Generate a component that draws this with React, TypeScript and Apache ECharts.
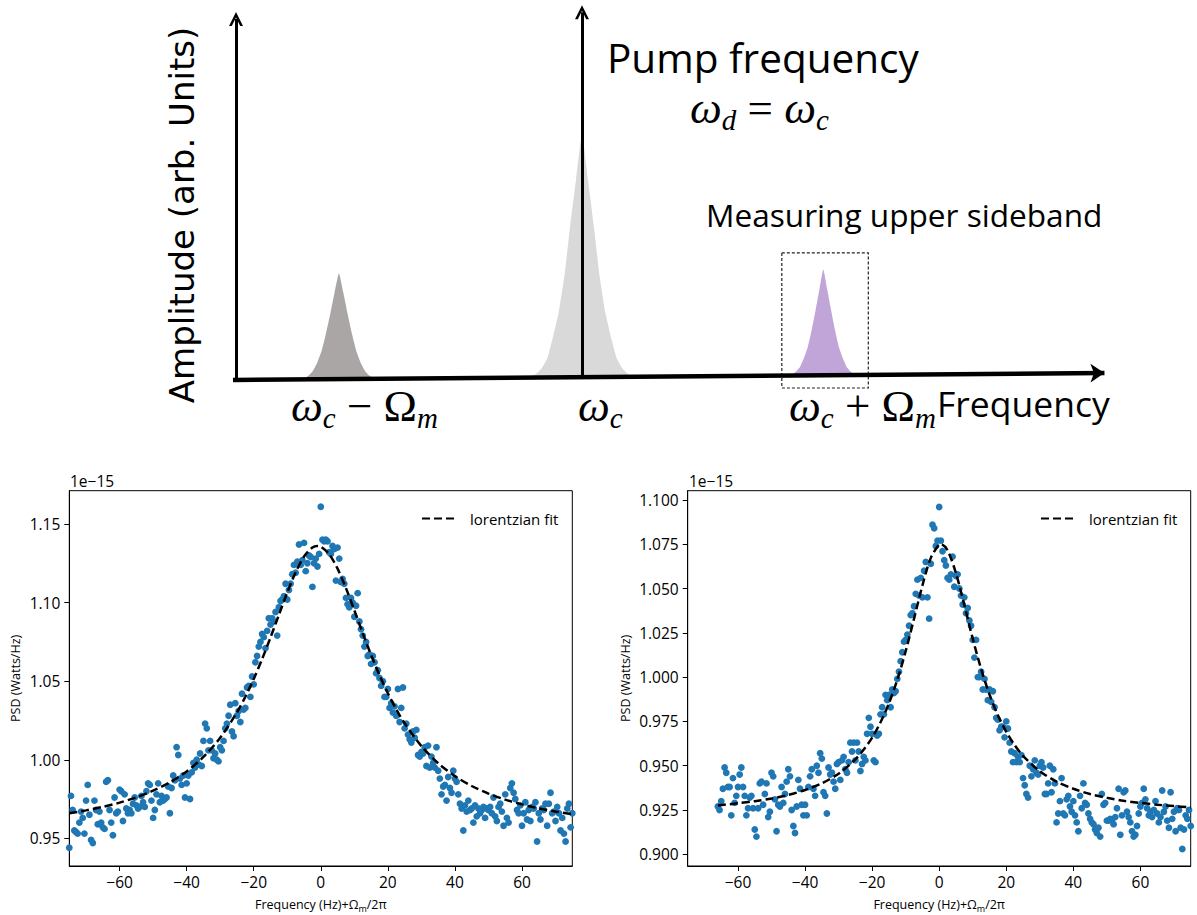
import React, { useEffect, useRef } from "react";
import * as echarts from "echarts";

// ---------- bottom charts: measured PSD (units of 1e-15 W/Hz) ----------
const FREQ_STEP = 0.5;
const LEFT_FREQ_START = -75;
const RIGHT_FREQ_START = -66;

const leftPsd = [
  0.944, 0.977, 0.968, 0.955, 0.954, 0.953, 0.960, 0.967, 0.963, 0.953,
  0.974, 0.984, 0.965, 0.949, 0.947, 0.974, 0.968, 0.959, 0.967, 0.960,
  0.957, 0.956, 0.986, 0.987, 0.968, 0.960, 0.952, 0.976, 0.966, 0.967,
  0.981, 0.980, 0.961, 0.978, 0.969, 0.966, 0.968, 0.966, 0.972, 0.976,
  0.971, 0.969, 0.970, 0.977, 0.973, 0.970, 0.980, 0.985, 0.984, 0.974,
  0.963, 0.968, 0.978, 0.985, 0.973, 0.977, 0.974, 0.975, 0.976, 0.983,
  0.966, 0.982, 0.990, 0.987, 1.008, 1.003, 0.988, 0.984, 0.990, 0.976,
  0.985, 0.990, 0.975, 0.992, 0.998, 0.995, 1.000, 0.997, 1.004, 0.996,
  1.012, 1.023, 1.020, 1.006, 1.012, 1.006, 1.001, 1.004, 1.000, 0.999,
  1.008, 1.006, 1.012, 1.020, 1.023, 1.028, 1.035, 1.018, 1.015, 1.036,
  1.028, 1.031, 1.024, 1.042, 1.032, 1.033, 1.046, 1.047, 1.040, 1.053,
  1.048, 1.062, 1.066, 1.072, 1.075, 1.080, 1.078, 1.071, 1.082, 1.090,
  1.086, 1.090, 1.088, 1.094, 1.079, 1.097, 1.101, 1.102, 1.104, 1.112,
  1.102, 1.108, 1.112, 1.118, 1.124, 1.119, 1.126, 1.137, 1.124, 1.127,
  1.138, 1.120, 1.125, 1.130, 1.129, 1.110, 1.125, 1.128, 1.123, 1.131,
  1.161, 1.140, 1.139, 1.140, 1.139, 1.132, 1.131, 1.136, 1.134, 1.114,
  1.135, 1.128, 1.113, 1.115, 1.112, 1.103, 1.099, 1.097, 1.103, 1.100,
  1.091, 1.098, 1.106, 1.088, 1.083, 1.079, 1.072, 1.075, 1.066, 1.067,
  1.061, 1.066, 1.062, 1.055, 1.057, 1.052, 1.047, 1.050, 1.040, 1.040,
  1.045, 1.033, 1.036, 1.030, 1.034, 1.028, 1.045, 1.024, 1.033, 1.046,
  1.020, 1.023, 1.016, 1.013, 1.011, 1.018, 1.014, 1.019, 1.003, 1.002,
  1.005, 1.004, 1.008, 0.996, 1.009, 0.995, 1.002, 0.998, 0.995, 1.008,
  0.993, 0.988, 0.978, 0.983, 0.984, 0.974, 0.989, 0.982, 0.979, 0.993,
  0.988, 0.986, 0.978, 0.972, 0.969, 0.955, 0.971, 0.967, 0.974, 0.968,
  0.969, 0.960, 0.971, 0.964, 0.969, 0.966, 0.968, 0.970, 0.963, 0.969,
  0.968, 0.970, 0.966, 0.976, 0.964, 0.961, 0.970, 0.972, 0.967, 0.958,
  0.978, 0.963, 0.960, 0.982, 0.985, 0.979, 0.975, 0.968, 0.966, 0.971,
  0.958, 0.966, 0.973, 0.962, 0.968, 0.961, 0.970, 0.969, 0.973, 0.948,
  0.966, 0.962, 0.969, 0.968, 0.972, 0.958, 0.972, 0.979, 0.966, 0.967,
  0.961, 0.970, 0.966, 0.955, 0.963, 0.953, 0.948, 0.969, 0.972, 0.957,
  0.966,
];

const rightPsd = [
  0.927, 0.925, 0.930, 0.937, 0.949, 0.946, 0.938, 0.938, 0.922, 0.943,
  0.929, 0.933, 0.938, 0.945, 0.949, 0.938, 0.933, 0.922, 0.926, 0.932,
  0.933, 0.926, 0.914, 0.910, 0.926, 0.940, 0.941, 0.928, 0.934, 0.940,
  0.921, 0.924, 0.946, 0.944, 0.931, 0.913, 0.928, 0.927, 0.938, 0.929,
  0.934, 0.941, 0.948, 0.944, 0.925, 0.916, 0.912, 0.927, 0.942, 0.937,
  0.928, 0.922, 0.928, 0.922, 0.938, 0.944, 0.948, 0.937, 0.933, 0.950,
  0.946, 0.957, 0.954, 0.935, 0.933, 0.923, 0.949, 0.945, 0.946, 0.941,
  0.937, 0.951, 0.952, 0.942, 0.953, 0.955, 0.948, 0.946, 0.952, 0.963,
  0.958, 0.963, 0.953, 0.963, 0.958, 0.947, 0.951, 0.955, 0.953, 0.968,
  0.977, 0.972, 0.968, 0.953, 0.952, 0.967, 0.968, 0.979, 0.983, 0.979,
  0.990, 0.987, 0.990, 0.983, 0.993, 0.991, 0.992, 0.999, 1.003, 1.009,
  1.014, 1.020, 1.021, 1.024, 1.029, 1.035, 1.036, 1.040, 1.047, 1.055,
  1.046, 1.056, 1.045, 1.060, 1.065, 1.045, 1.033, 1.064, 1.086, 1.084,
  1.074, 1.077, 1.096, 1.077, 1.071, 1.066, 1.063, 1.056, 1.055, 1.058,
  1.068, 1.051, 1.057, 1.058, 1.050, 1.046, 1.041, 1.045, 1.036, 1.039,
  1.032, 1.029, 1.021, 1.011, 1.021, 1.000, 1.000, 1.003, 0.993, 0.999,
  0.993, 0.987, 0.993, 0.986, 0.992, 0.983, 0.977, 0.976, 0.970, 0.972,
  0.972, 0.966, 0.975, 0.971, 0.963, 0.958, 0.952, 0.957, 0.952, 0.955,
  0.952, 0.956, 0.943, 0.939, 0.934, 0.932, 0.950, 0.944, 0.948, 0.953,
  0.946, 0.945, 0.950, 0.952, 0.949, 0.934, 0.934, 0.940, 0.950, 0.935,
  0.948, 0.940, 0.918, 0.923, 0.930, 0.943, 0.923, 0.922, 0.931, 0.933,
  0.927, 0.924, 0.930, 0.922, 0.918, 0.913, 0.933, 0.926, 0.940, 0.929,
  0.928, 0.923, 0.920, 0.918, 0.917, 0.914, 0.912, 0.915, 0.910, 0.934,
  0.928, 0.929, 0.919, 0.919, 0.920, 0.919, 0.917, 0.921, 0.926, 0.937,
  0.911, 0.922, 0.935, 0.936, 0.924, 0.921, 0.918, 0.913, 0.910, 0.911,
  0.916, 0.923, 0.927, 0.929, 0.937, 0.931, 0.926, 0.922, 0.924, 0.921,
  0.925, 0.930, 0.923, 0.918, 0.921, 0.936, 0.924, 0.927, 0.919, 0.915,
  0.935, 0.920, 0.924, 0.913, 0.926, 0.925, 0.915, 0.903, 0.914, 0.922,
  0.920, 0.925, 0.916,
];

// lorentzian fit curves
const leftFitFreq = [-75, -70, -65, -60, -55, -50, -45, -40, -35, -30, -25, -22.5, -20, -17.5, -15, -12.5, -10, -7.5, -5, -2.5, -1, 0, 2.5, 5, 7.5, 10, 12.5, 15, 17.5, 20, 22.5, 25, 30, 35, 40, 45, 50, 55, 60, 65, 70, 75];
const leftFitPsd = [0.9660, 0.9678, 0.9700, 0.9727, 0.9761, 0.9803, 0.9856, 0.9926, 1.0018, 1.0140, 1.0302, 1.0401, 1.0514, 1.0641, 1.0778, 1.0922, 1.1064, 1.1193, 1.1293, 1.1350, 1.1360, 1.1356, 1.1308, 1.1216, 1.1092, 1.0951, 1.0806, 1.0667, 1.0539, 1.0423, 1.0321, 1.0232, 1.0087, 0.9978, 0.9896, 0.9833, 0.9785, 0.9746, 0.9716, 0.9691, 0.9671, 0.9654];

const rightFitFreq = [-66, -60, -55, -50, -45, -40, -35, -30, -25, -22.5, -20, -17.5, -15, -12.5, -10, -7.5, -5, -2.5, 0, 0.5, 2.5, 5, 7.5, 10, 12.5, 15, 17.5, 20, 22.5, 25, 30, 35, 40, 45, 50, 55, 60, 65, 70, 75];
const rightFitPsd = [0.9276, 0.9288, 0.9300, 0.9315, 0.9335, 0.9363, 0.9401, 0.9455, 0.9536, 0.9591, 0.9659, 0.9745, 0.9852, 0.9985, 1.0146, 1.0330, 1.0518, 1.0673, 1.0748, 1.0750, 1.0715, 1.0586, 1.0406, 1.0217, 1.0046, 0.9902, 0.9785, 0.9691, 0.9616, 0.9556, 0.9469, 0.9410, 0.9370, 0.9340, 0.9319, 0.9302, 0.9290, 0.9280, 0.9272, 0.9265];

const xTicks = [-60, -40, -20, 0, 20, 40, 60];
const leftYTicks = [0.95, 1.0, 1.05, 1.1, 1.15];
const rightYTicks = [0.9, 0.925, 0.95, 0.975, 1.0, 1.025, 1.05, 1.075, 1.1];

// ---------- top schematic (arbitrary units) ----------
const lowerSidebandFreq = [6.9, 7.9, 8.4, 8.9, 9.4, 9.9, 10.4, 10.9, 11.4, 11.9, 12.4, 12.9, 13.4, 13.9, 14.4, 14.9, 15.4, 15.9, 16.9];
const lowerSidebandAmp = [0.002, 0.005, 0.012, 0.025, 0.047, 0.078, 0.124, 0.177, 0.234, 0.285, 0.234, 0.177, 0.124, 0.078, 0.047, 0.025, 0.012, 0.005, 0.002];
const pumpFreq = [33.3, 34.6, 35.3, 36.0, 36.6, 37.3, 38.0, 38.6, 39.3, 40.0, 40.7, 41.4, 42.0, 42.7, 43.4, 44.0, 44.7, 45.4, 46.7];
const pumpAmp = [0.008, 0.015, 0.030, 0.059, 0.110, 0.180, 0.283, 0.405, 0.533, 0.655, 0.533, 0.405, 0.283, 0.180, 0.110, 0.059, 0.030, 0.015, 0.008];
const upperSidebandFreq = [63.4, 64.3, 64.75, 65.2, 65.65, 66.1, 66.55, 67.0, 67.45, 67.9, 68.35, 68.8, 69.25, 69.7, 70.15, 70.6, 71.05, 71.5, 72.4];
const upperSidebandAmp = [0.013, 0.016, 0.023, 0.035, 0.058, 0.088, 0.133, 0.186, 0.242, 0.295, 0.242, 0.186, 0.133, 0.088, 0.058, 0.035, 0.023, 0.016, 0.013];
const peakBases = [0.002, 0.0075, 0.0127];

const freqAxisLine = [[-0.35, 0], [100.4, 0.0186]];
const ampAxisLine = [[0, 0], [0, 0.963]];
const pumpLine = [[40, 0.008], [40, 0.981]];
const boxCorners = [[63.1, 0.339], [73.1, 0.339], [73.1, -0.0213], [63.1, -0.0213], [63.1, 0.339]];

const SANS = "'Open Sans', 'Noto Sans', sans-serif";
const MATH = "'Liberation Serif', 'DejaVu Serif', serif";
const CHEVRON = "path://M0,9 L5,0 L10,9 L8,9 L5,3.6 L2,9 Z";

function zip(xs: number[], ys: number[]) {
  return xs.map((x, i) => [x, ys[i]]);
}
function bins(start: number, ys: number[]) {
  return ys.map((y, i) => [start + i * FREQ_STEP, y]);
}

const mathRich = {
  w: { fontFamily: MATH, fontStyle: "italic", fontSize: 45, lineHeight: 52, fill: "#000" },
  u: { fontFamily: MATH, fontSize: 45, lineHeight: 52, fill: "#000" },
  s: { fontFamily: MATH, fontStyle: "italic", fontSize: 29, lineHeight: 24, verticalAlign: "bottom", fill: "#000" },
};

function bottomX(gridIndex: number) {
  return {
    type: "value",
    gridIndex,
    min: -75,
    max: 75,
    axisLine: { show: true, onZero: false, lineStyle: { color: "#000", width: 1 } },
    axisTick: { show: true, customValues: xTicks, length: 5, lineStyle: { color: "#000", width: 1 } },
    axisLabel: {
      customValues: xTicks,
      formatter: (v: number) => String(v).replace("-", "\u2212"),
      color: "#000",
      fontSize: 15.5,
      fontFamily: SANS,
      margin: 8,
    },
    splitLine: { show: false },
    name: "Frequency (Hz)+Ω{sub|m}/2π",
    nameLocation: "middle",
    nameGap: 29,
    nameTextStyle: {
      color: "#000",
      fontSize: 12.5,
      fontFamily: SANS,
      lineHeight: 18,
      rich: { sub: { fontSize: 9, fontFamily: SANS, color: "#000", lineHeight: 10, verticalAlign: "bottom" } },
    },
  };
}

function bottomY(gridIndex: number, min: number, max: number, ticks: number[], decimals: number, nameGap: number) {
  return {
    type: "value",
    gridIndex,
    min,
    max,
    axisLine: { show: true, onZero: false, lineStyle: { color: "#000", width: 1 } },
    axisTick: { show: true, customValues: ticks, length: 5, lineStyle: { color: "#000", width: 1 } },
    axisLabel: {
      customValues: ticks,
      formatter: (v: number) => v.toFixed(decimals),
      color: "#000",
      fontSize: 15.5,
      fontFamily: SANS,
      margin: 9,
    },
    splitLine: { show: false },
    name: "PSD (Watts/Hz)",
    nameLocation: "middle",
    nameGap,
    nameTextStyle: { color: "#000", fontSize: 12.5, fontFamily: SANS },
  };
}

function peakSeries(freq: number[], amp: number[], base: number, color: string) {
  return {
    type: "line",
    xAxisIndex: 0,
    yAxisIndex: 0,
    data: zip(freq, amp),
    showSymbol: false,
    symbol: "none",
    smooth: 0.15,
    lineStyle: { width: 0, opacity: 0 },
    areaStyle: { color, opacity: 1, origin: base },
    z: 1,
    silent: true,
  };
}

function legendAt(left: number) {
  return {
    left,
    top: 506,
    itemWidth: 35,
    itemHeight: 14,
    data: ["lorentzian fit"],
    itemStyle: { opacity: 0 },
    textStyle: { color: "#000", fontSize: 15, fontFamily: SANS, padding: [0, 0, 0, 8] },
    selectedMode: false,
  };
}

export default function App() {
  const ref = useRef<HTMLDivElement>(null);
  useEffect(() => {
    if (!ref.current) return;
    const chart = echarts.init(ref.current, undefined, { renderer: "svg" });
    const fitLine = (xi: number, fx: number[], fy: number[]) => ({
      name: "lorentzian fit",
      type: "line",
      xAxisIndex: xi,
      yAxisIndex: xi,
      data: zip(fx, fy),
      showSymbol: false,
      symbol: "none",
      smooth: 0.3,
      lineStyle: { color: "#000", width: 2.5, type: [8, 4] },
      itemStyle: { color: "#000" },
      z: 5,
    });
    const scatter = (xi: number, start: number, ys: number[]) => ({
      type: "scatter",
      xAxisIndex: xi,
      yAxisIndex: xi,
      data: bins(start, ys),
      symbolSize: 6.8,
      itemStyle: { color: "#1f77b4", opacity: 1 },
      z: 3,
    });
    const option: any = {
      animation: false,
      backgroundColor: "#fff",
      grid: [
        { left: 218.7, top: 1.25, width: 882.3, height: 397.5, show: false },
        { left: 69.3, top: 490.7, width: 503, height: 375.3, show: true, borderColor: "#000", borderWidth: 1, backgroundColor: "transparent" },
        { left: 687.7, top: 490.7, width: 503, height: 375.3, show: true, borderColor: "#000", borderWidth: 1, backgroundColor: "transparent" },
      ],
      xAxis: [
        { type: "value", gridIndex: 0, min: -2, max: 100, show: false },
        bottomX(1),
        bottomX(2),
      ],
      yAxis: [
        { type: "value", gridIndex: 0, min: -0.05, max: 1.01, show: false },
        bottomY(1, 0.9324, 1.1712, leftYTicks, 2, 47),
        bottomY(2, 0.8934, 1.1052, rightYTicks, 3, 56),
      ],
      legend: [legendAt(416), legendAt(1035)],
      series: [
        peakSeries(lowerSidebandFreq, lowerSidebandAmp, peakBases[0], "#aba6a6"),
        peakSeries(pumpFreq, pumpAmp, peakBases[1], "#d9d9d9"),
        peakSeries(upperSidebandFreq, upperSidebandAmp, peakBases[2], "#c1a5d9"),
        {
          type: "lines",
          coordinateSystem: "cartesian2d",
          xAxisIndex: 0,
          yAxisIndex: 0,
          clip: false,
          z: 4,
          symbol: ["none", CHEVRON],
          symbolSize: [15, 14],
          lineStyle: { color: "#000", width: 3, opacity: 1, curveness: 0 },
          data: [{ coords: ampAxisLine }, { coords: pumpLine }],
          silent: true,
        },
        {
          type: "lines",
          coordinateSystem: "cartesian2d",
          xAxisIndex: 0,
          yAxisIndex: 0,
          clip: false,
          z: 4,
          symbol: ["none", "arrow"],
          symbolSize: [13, 14],
          lineStyle: { color: "#000", width: 4.5, opacity: 1, curveness: 0 },
          data: [{ coords: freqAxisLine }],
          silent: true,
        },
        {
          type: "lines",
          coordinateSystem: "cartesian2d",
          xAxisIndex: 0,
          yAxisIndex: 0,
          polyline: true,
          clip: false,
          z: 3,
          symbol: ["none", "none"],
          lineStyle: { color: "#222", width: 1.2, opacity: 1, type: [3, 2] },
          data: [{ coords: boxCorners }],
          silent: true,
        },
        scatter(1, LEFT_FREQ_START, leftPsd),
        fitLine(1, leftFitFreq, leftFitPsd),
        scatter(2, RIGHT_FREQ_START, rightPsd),
        fitLine(2, rightFitFreq, rightFitPsd),
      ],
      graphic: [
        { type: "text", x: 607, y: 57, style: { text: "Pump frequency", fontFamily: SANS, fontSize: 40.5, fill: "#000", align: "left", verticalAlign: "middle" } },
        { type: "text", x: 690, y: 108, style: { text: "{w|ω}{s|d}{u| = }{w|ω}{s|c}", rich: mathRich, align: "left", verticalAlign: "middle" } },
        { type: "text", x: 706, y: 214, style: { text: "Measuring upper sideband", fontFamily: SANS, fontSize: 31.6, fill: "#000", align: "left", verticalAlign: "middle" } },
        { type: "text", x: 182, y: 215, rotation: Math.PI / 2, style: { text: "Amplitude (arb. Units)", fontFamily: "'DejaVu Sans', sans-serif", fontSize: 34, fill: "#000", align: "center", verticalAlign: "middle" } },
        { type: "text", x: 291, y: 406, style: { text: "{w|ω}{s|c}{u| − Ω}{s|m}", rich: mathRich, align: "left", verticalAlign: "middle" } },
        { type: "text", x: 578, y: 406, style: { text: "{w|ω}{s|c}", rich: mathRich, align: "left", verticalAlign: "middle" } },
        { type: "text", x: 789, y: 406, style: { text: "{w|ω}{s|c}{u| + Ω}{s|m}", rich: mathRich, align: "left", verticalAlign: "middle" } },
        { type: "text", x: 937, y: 403, style: { text: "Frequency", fontFamily: SANS, fontSize: 35.5, fill: "#000", align: "left", verticalAlign: "middle" } },
        { type: "text", x: 70, y: 481, style: { text: "1e\u221215", fontFamily: SANS, fontSize: 15.5, fill: "#000", align: "left", verticalAlign: "middle" } },
        { type: "text", x: 689, y: 481, style: { text: "1e\u221215", fontFamily: SANS, fontSize: 15.5, fill: "#000", align: "left", verticalAlign: "middle" } },
      ],
    };
    chart.setOption(option);
    return () => chart.dispose();
  }, []);
  return <div ref={ref} style={{ position: "absolute", left: 0, top: 0, width: 1197, height: 915 }} />;
}
